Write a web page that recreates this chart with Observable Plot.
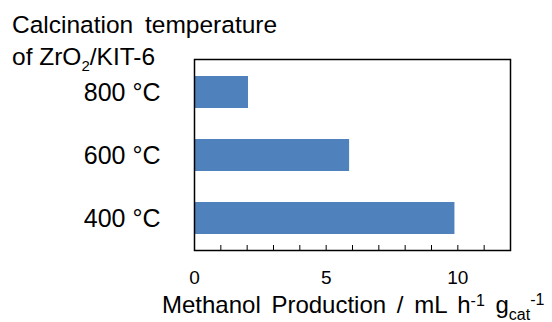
<!DOCTYPE html>
<html>
<head>
<meta charset="utf-8">
<script src="https://cdn.jsdelivr.net/npm/d3@7"></script>
<script src="https://cdn.jsdelivr.net/npm/@observablehq/plot@0.6"></script>
<style>
  html, body { margin: 0; padding: 0; background: white; }
</style>
</head>
<body>
<div id="chart"></div>
<script>
const categories = ["800 °C", "600 °C", "400 °C"];
const production = [2.05, 5.89, 9.89];
const minorTicks = [0, 1, 2, 3, 4, 5, 6, 7, 8, 9, 10, 11, 12];
const labelTicks = [0, 5, 10];

const data = categories.map((c, i) => ({cat: c, value: production[i]}));

const chart = Plot.plot({
  width: 552,
  height: 322,
  marginLeft: 194,
  marginRight: 42,
  marginTop: 59,
  marginBottom: 72,
  style: {fontFamily: "'Liberation Sans', Arial, sans-serif", background: "white", color: "black"},
  x: {domain: [0, 12]},
  y: {domain: categories, paddingInner: 0.5, paddingOuter: 0.25},
  marks: [
    Plot.barX(data, {x: "value", y: "cat", fill: "#4f81bd"}),
    Plot.frame({stroke: "black", strokeWidth: 1.5}),
    Plot.axisX({ticks: minorTicks, tickSize: -5, tickFormat: () => "", label: null, strokeWidth: 1}),
    Plot.axisX({ticks: labelTicks, tickSize: 0, tickPadding: 20, fontSize: 19, label: null}),
    Plot.axisY({tickSize: 0, tickPadding: 34, fontSize: 25, label: null})
  ]
});

document.getElementById("chart").appendChild(chart);

const svg = d3.select(chart);
const ff = "'Liberation Sans', Arial, sans-serif";
svg.append("text").attr("x", 12).attr("y", 33).attr("font-size", 24.5).attr("text-anchor", "start")
  .attr("word-spacing", 5)
  .attr("font-family", ff).attr("fill", "black").text("Calcination temperature");
const t2 = svg.append("text").attr("x", 12).attr("y", 65).attr("font-size", 24.5).attr("text-anchor", "start")
  .attr("font-family", ff).attr("fill", "black");
t2.append("tspan").text("of ZrO");
t2.append("tspan").attr("font-size", 15).attr("dy", 6).text("2");
t2.append("tspan").attr("dy", -6).text("/KIT-6");

const xl = svg.append("text").attr("x", 162).attr("y", 313).attr("font-size", 24).attr("text-anchor", "start")
  .attr("word-spacing", 4)
  .attr("font-family", ff).attr("fill", "black");
xl.append("tspan").text("Methanol Production / mL h");
xl.append("tspan").attr("font-size", 16).attr("dy", -7).text("-1");
xl.append("tspan").attr("dy", 7).text(" g");
xl.append("tspan").attr("font-size", 16).attr("dy", 7).text("cat");
xl.append("tspan").attr("font-size", 16).attr("dy", -15).text("-1");
</script>
</body>
</html>
